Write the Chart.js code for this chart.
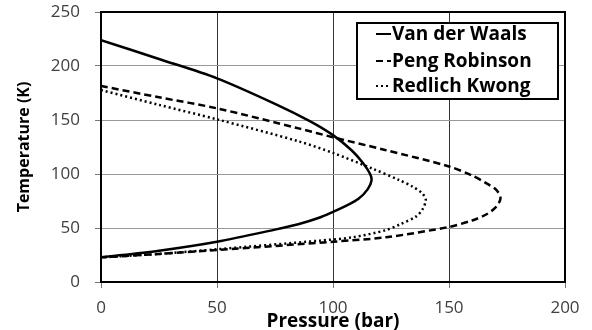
<!DOCTYPE html>
<html>
<head>
<meta charset="utf-8">
<script src="https://cdn.jsdelivr.net/npm/chart.js@4.4.1/dist/chart.umd.min.js"></script>
<style>
  html, body { margin: 0; padding: 0; background: #fff; }
  #wrap { width: 592px; height: 330px; position: relative; }
</style>
</head>
<body>
<div id="wrap"><canvas id="eosChart"></canvas></div>
<script>
// Saturation curves: pressure (bar) vs temperature (K)
const seriesNames = ['Van der Waals', 'Peng Robinson', 'Redlich Kwong'];

const vdwPressure = [0, 25, 50, 75, 90, 100, 108, 113, 116, 116.6, 115, 111, 106, 100, 94, 85, 75, 50, 25, 0];
const vdwTemp     = [224, 206.5, 188.6, 165, 149, 136, 122, 110, 100, 94, 86, 77, 71, 65, 59.5, 53.5, 48.5, 37.3, 29, 22.8];

const prPressure = [0, 25, 50, 85.6, 100, 122, 150, 160, 166, 170.3, 172.2, 170.3, 166, 160, 150, 122.8, 100, 50, 25, 0];
const prTemp     = [181.5, 171, 160.8, 142, 134, 122.5, 107, 98.5, 91.5, 85.5, 77.5, 69.5, 62.5, 57, 51, 41.4, 37.3, 29.6, 26, 22.8];

const rkPressure = [0, 25, 50, 85.6, 100, 117, 128.5, 134.3, 138.5, 140, 138.5, 135.7, 129, 122.8, 108.5, 94.2, 50, 25, 0];
const rkTemp     = [177.8, 164, 150.6, 130, 119.5, 105, 94.4, 88.3, 82, 76, 67, 60.5, 53.5, 48, 41.4, 38.3, 30.3, 26, 22.8];

const xTicks = [0, 50, 100, 150, 200];
const yTicks = [0, 50, 100, 150, 200, 250];

function toPoints(px, ty) {
  return px.map((p, i) => ({ x: p, y: ty[i] }));
}

// Legend box inside the plot + black frame
const frameAndLegend = {
  id: 'frameAndLegend',
  afterDatasetsDraw(chart) {
    const ctx = chart.ctx;
    const a = chart.chartArea;
    ctx.save();
    ctx.strokeStyle = '#000';
    ctx.lineWidth = 2;
    ctx.strokeRect(a.left, a.top, a.right - a.left, a.bottom - a.top);

    const bx = 357, by = 23, bw = 201, bh = 76;
    ctx.fillStyle = '#fff';
    ctx.fillRect(bx, by, bw, bh);
    ctx.strokeRect(bx, by, bw, bh);

    ctx.font = 'bold 19px "Open Sans"';
    ctx.textBaseline = 'middle';
    ctx.fillStyle = '#000';
    const rows = [34, 61, 86];
    chart.data.datasets.forEach((ds, i) => {
      const y = rows[i];
      ctx.beginPath();
      ctx.setLineDash(ds.borderDash || []);
      ctx.lineWidth = 2;
      ctx.moveTo(376, y);
      ctx.lineTo(391, y);
      ctx.stroke();
      ctx.setLineDash([]);
      ctx.fillText(ds.label, 392, y + 1);
    });
    ctx.restore();
  }
};

const canvas = document.getElementById('eosChart');
const ctx = canvas.getContext('2d');

new Chart(ctx, {
  type: 'scatter',
  data: {
    datasets: [
      {
        label: seriesNames[0],
        data: toPoints(vdwPressure, vdwTemp),
        borderColor: '#000',
        borderWidth: 2.5,
        borderDash: [],
      },
      {
        label: seriesNames[1],
        data: toPoints(prPressure, prTemp),
        borderColor: '#000',
        borderWidth: 2.5,
        borderDash: [7, 4],
      },
      {
        label: seriesNames[2],
        data: toPoints(rkPressure, rkTemp),
        borderColor: '#000',
        borderWidth: 2.5,
        borderDash: [2, 3],
      }
    ].map(d => Object.assign(d, { showLine: true, pointRadius: 0, tension: 0.3, fill: false }))
  },
  options: {
    responsive: true,
    maintainAspectRatio: false,
    animation: false,
    layout: { padding: { top: 12, right: 27, left: 0, bottom: 0 } },
    plugins: {
      legend: { display: false },
      tooltip: { enabled: false }
    },
    scales: {
      x: {
        type: 'linear',
        min: 0, max: 200,
        afterBuildTicks: s => { s.ticks = xTicks.map(v => ({ value: v })); },
        afterFit: s => { s.height = 48; s.paddingLeft = 0; s.paddingRight = 0; },
        grid: { color: '#333', lineWidth: 1, tickLength: 6, tickColor: '#777' },
        border: { display: false },
        ticks: { color: '#404040', font: { family: 'Open Sans', size: 17 }, padding: 10, maxRotation: 0 },
        title: { display: true, text: 'Pressure (bar)', color: '#000',
                 font: { family: 'Open Sans', size: 19, weight: 'bold' }, padding: { top: 0, bottom: -3 } }
      },
      y: {
        type: 'linear',
        min: 0, max: 250,
        afterBuildTicks: s => { s.ticks = yTicks.map(v => ({ value: v })); },
        afterFit: s => { s.width = 101; s.paddingTop = 0; s.paddingBottom = 0; },
        grid: { color: '#999', lineWidth: 1, tickLength: 6, tickColor: '#777' },
        border: { display: false },
        ticks: { color: '#404040', font: { family: 'Open Sans', size: 17 }, padding: 15 },
        title: { display: true, text: 'Temperature (K)', color: '#000',
                 font: { family: 'Open Sans', size: 16, weight: 'bold' }, padding: { top: 15, bottom: 0 } }
      }
    }
  },
  plugins: [frameAndLegend]
});
</script>
</body>
</html>
